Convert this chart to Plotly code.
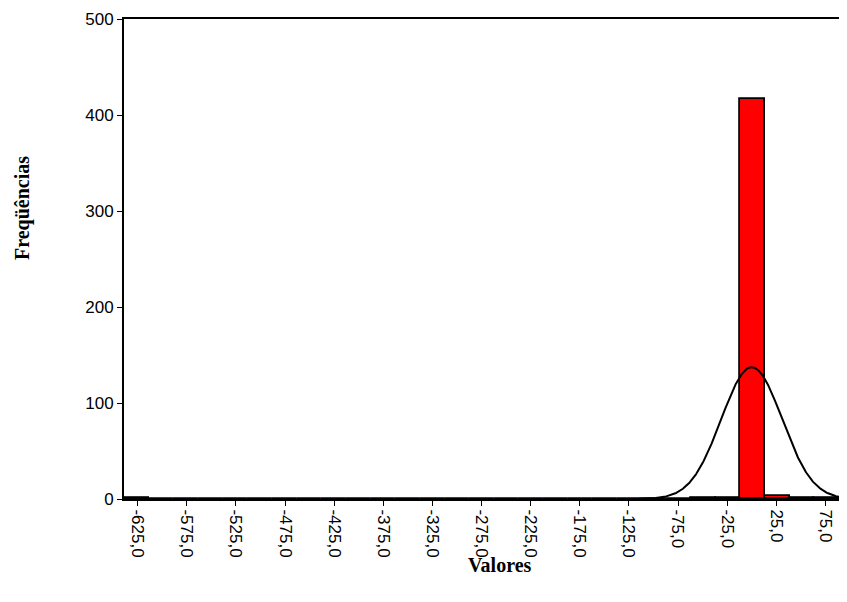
import numpy as np
import plotly.graph_objects as go

# Histogram data (bins of equal width starting at the data minimum)
bin_start = -639.0
bin_width = 25.1
counts = [1, 0, 0, 0, 0, 0, 0, 0, 0, 0, 0, 0, 0, 0, 0, 0, 0, 0, 0, 0, 0, 0, 0,
          1, 1, 417, 3, 1, 1]

# Fitted normal curve parameters
curve_mean = 0.0
curve_sd = 31.0

# Axis ticks
x_tickvals = [-625, -575, -525, -475, -425, -375, -325, -275, -225, -175, -125, -75, -25, 25, 75]
x_ticktext = ["-625,0", "-575,0", "-525,0", "-475,0", "-425,0", "-375,0", "-325,0", "-275,0",
              "-225,0", "-175,0", "-125,0", "-75,0", "-25,0", "25,0", "75,0"]
y_tickvals = [0, 100, 200, 300, 400, 500]

n_bins = len(counts)
centers = [bin_start + bin_width * (i + 0.5) for i in range(n_bins)]
x_max = bin_start + bin_width * n_bins
n_total = sum(counts)

fig = go.Figure()
fig.add_trace(go.Bar(
    x=centers, y=counts, width=bin_width,
    marker=dict(color="#ff0000", line=dict(color="black", width=1.8)),
    showlegend=False, hoverinfo="x+y",
))

xc = np.linspace(-115, x_max, 400)
yc = n_total * bin_width / (curve_sd * np.sqrt(2 * np.pi)) * np.exp(-0.5 * ((xc - curve_mean) / curve_sd) ** 2)
fig.add_trace(go.Scatter(x=xc, y=yc, mode="lines", line=dict(color="black", width=2),
                         showlegend=False, hoverinfo="skip"))

# page body has an 8px margin; figure is sized to fit inside the window
W, H = 831, 586
L, R, T, B = 116, 0, 11, 95
pw, ph = W - L - R, H - T - B

fig.update_layout(
    width=W, height=H,
    margin=dict(l=L, r=R, t=T, b=B, autoexpand=False),
    paper_bgcolor="white", plot_bgcolor="white",
    bargap=0,
    font=dict(family="Liberation Sans, Arial, sans-serif", color="black"),
)
fig.update_xaxes(
    range=[bin_start, x_max],
    tickmode="array", tickvals=x_tickvals, ticktext=x_ticktext,
    tickangle=90, tickfont=dict(size=17, color="black"),
    ticks="outside", ticklen=5, tickcolor="black",
    showline=True, linecolor="black", linewidth=2, mirror=True,
    showgrid=False, zeroline=False, automargin=False,
)
fig.update_yaxes(
    range=[0, 500],
    tickmode="array", tickvals=y_tickvals,
    tickfont=dict(size=17, color="black"),
    ticks="outside", ticklen=5, tickcolor="black",
    showline=True, linecolor="black", linewidth=2, mirror=True,
    showgrid=False, zeroline=False, automargin=False,
)
fig.add_annotation(text="<b>Valores</b>", xref="paper", yref="paper",
                   x=(500 - 124) / pw, y=-(565 - 499) / ph,
                   xanchor="center", yanchor="middle",
                   showarrow=False, font=dict(family="Liberation Serif, Times New Roman, serif", size=20, color="black"))
fig.add_annotation(text="<b>Freqüências</b>", xref="paper", yref="paper",
                   x=-(124 - 22) / pw, y=(499 - 208) / ph,
                   xanchor="center", yanchor="middle",
                   textangle=-90, showarrow=False,
                   font=dict(family="Liberation Serif, Times New Roman, serif", size=20, color="black"))

fig.write_html("out.html")
